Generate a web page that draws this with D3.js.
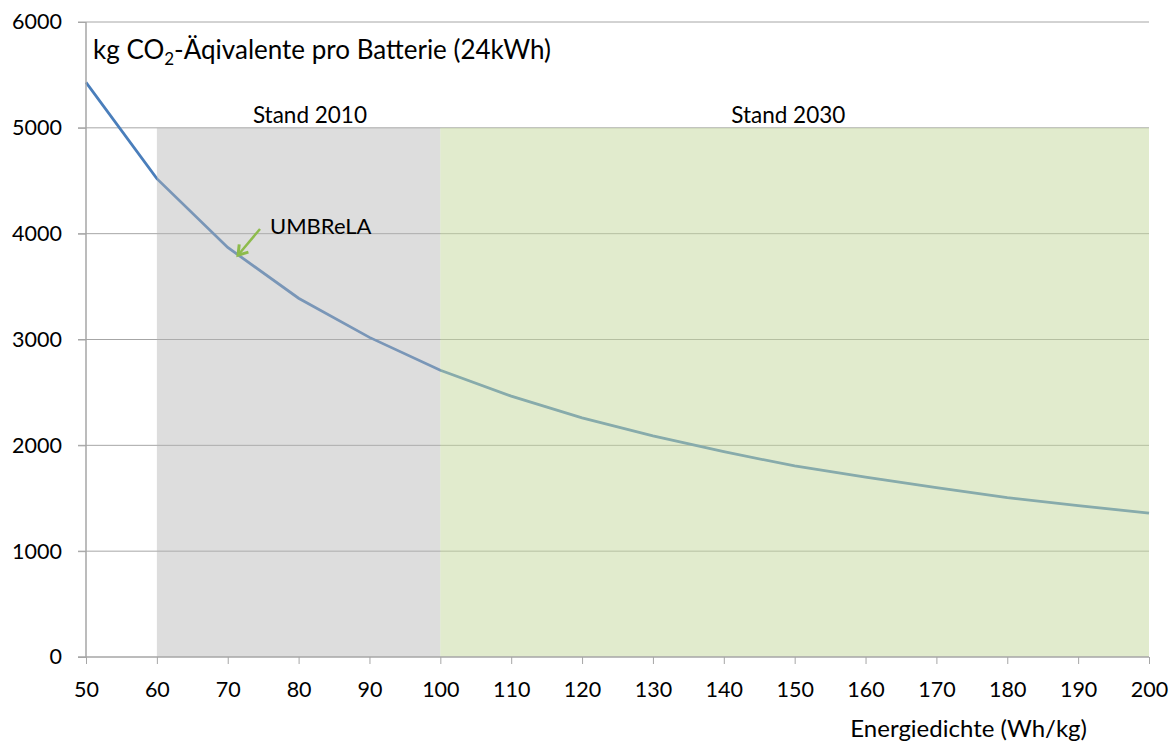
<!DOCTYPE html>
<html>
<head>
<meta charset="utf-8">
<script src="https://cdn.jsdelivr.net/npm/d3@7"></script>
<style>
    body { margin: 0; background: #fff; }
    svg { font-family: Lato, "Open Sans", sans-serif; fill: #000; }
</style>
</head>
<body>
<script>
const WIDTH = 1173;
const HEIGHT = 744;

// Energy density (Wh/kg) and kg CO2-eq per battery
const energyDensity = [50, 60, 70, 80, 90, 100, 110, 120, 130, 140, 150, 160, 170, 180, 190, 200];
const co2PerBattery = [5430, 4520, 3870, 3390, 3020, 2710, 2465, 2260, 2090, 1940, 1805, 1700, 1600, 1505, 1430, 1360];

const xTicks = [50, 60, 70, 80, 90, 100, 110, 120, 130, 140, 150, 160, 170, 180, 190, 200];
const yTicks = [0, 1000, 2000, 3000, 4000, 5000, 6000];

// shaded ranges; the labels are free text boxes, not exactly centred
const zones = [
    { from: 60, to: 100, top: 5000, label: "Stand 2010", labelAt: 81.6, fill: "rgb(180,180,180)", opacity: 0.45 },
    { from: 100, to: 200, top: 5000, label: "Stand 2030", labelAt: 149.1, fill: "rgb(196,215,155)", opacity: 0.5 }
];

const x = d3.scaleLinear().domain([50, 200]).range([86, 1149]);
const y = d3.scaleLinear().domain([0, 6000]).range([657, 22]);

const svg = d3.select("body").append("svg")
    .attr("width", WIDTH)
    .attr("height", HEIGHT);

// Gridlines
svg.append("g")
    .selectAll("line")
    .data(yTicks.filter(t => t > 0))
    .join("line")
    .attr("x1", x(50) - 8)
    .attr("x2", x(200))
    .attr("y1", d => y(d))
    .attr("y2", d => y(d))
    .attr("stroke", "#a6a6a6")
    .attr("stroke-width", 1);

// Curve
const line = d3.line()
    .x((d, i) => x(energyDensity[i]))
    .y(d => y(d));

svg.append("path")
    .datum(co2PerBattery)
    .attr("d", line)
    .attr("fill", "none")
    .attr("stroke", "#4a7ebb")
    .attr("stroke-width", 2.75);

// Translucent zones sit on top of the line, like in the original
svg.append("g")
    .selectAll("rect")
    .data(zones)
    .join("rect")
    .attr("x", d => x(d.from))
    .attr("width", d => x(d.to) - x(d.from))
    .attr("y", d => y(d.top))
    .attr("height", d => y(0) - y(d.top))
    .attr("fill", d => d.fill)
    .attr("fill-opacity", d => d.opacity);

svg.append("g")
    .selectAll("text")
    .data(zones)
    .join("text")
    .attr("x", d => x(d.labelAt))
    .attr("y", d => y(d.top) - 5)
    .attr("text-anchor", "middle")
    .attr("font-size", 22.5)
    .text(d => d.label);

// Axes
const xAxis = d3.axisBottom(x).tickValues(xTicks).tickSize(7).tickPadding(18);
const yAxis = d3.axisLeft(y).tickValues(yTicks).tickSize(8).tickPadding(16)
    .tickFormat(d3.format("d"));

const gx = svg.append("g")
    .attr("transform", `translate(0,${y(0)})`)
    .call(xAxis);
const gy = svg.append("g")
    .attr("transform", `translate(${x(50)},0)`)
    .call(yAxis);

[gx, gy].forEach(g => {
    g.select(".domain").attr("stroke", "#a6a6a6").attr("stroke-width", 1.5);
    g.selectAll(".tick line").attr("stroke", "#a6a6a6");
    g.selectAll(".tick text")
        .attr("font-size", 21.5)
        .attr("font-family", "Lato, 'Open Sans', sans-serif")
        .attr("fill", "#000");
});
gy.select(".domain").attr("d", `M0,${y(0)}V${y(6000)}`);
gx.select(".domain").attr("d", `M${x(50) - 8},0H${x(200)}`);

// Title
const title = svg.append("text")
    .attr("x", 93)
    .attr("y", 59)
    .attr("font-size", 26);
title.append("tspan").text("kg CO");
title.append("tspan").attr("font-size", 17).attr("dy", 6).text("2");
title.append("tspan").attr("dy", -6).text("-Äqivalente pro Batterie (24kWh)");

// x axis label
svg.append("text")
    .attr("x", 1087)
    .attr("y", 737)
    .attr("text-anchor", "end")
    .attr("font-size", 24)
    .text("Energiedichte (Wh/kg)");

// UMBReLA annotation
svg.append("defs").append("marker")
    .attr("id", "arrow")
    .attr("viewBox", "0 0 10 10")
    .attr("refX", 6)
    .attr("refY", 5)
    .attr("markerWidth", 6)
    .attr("markerHeight", 6)
    .attr("orient", "auto")
    .append("path")
    .attr("d", "M1,1L7,5L1,9")
    .attr("fill", "none")
    .attr("stroke", "#8dbb4c")
    .attr("stroke-width", 2);

svg.append("line")
    .attr("x1", 260)
    .attr("y1", 229)
    .attr("x2", 239)
    .attr("y2", 254)
    .attr("stroke", "#8dbb4c")
    .attr("stroke-width", 2.5)
    .attr("marker-end", "url(#arrow)");

svg.append("text")
    .attr("x", 270)
    .attr("y", 234)
    .attr("font-size", 22)
    .text("UMBReLA");
</script>
</body>
</html>
